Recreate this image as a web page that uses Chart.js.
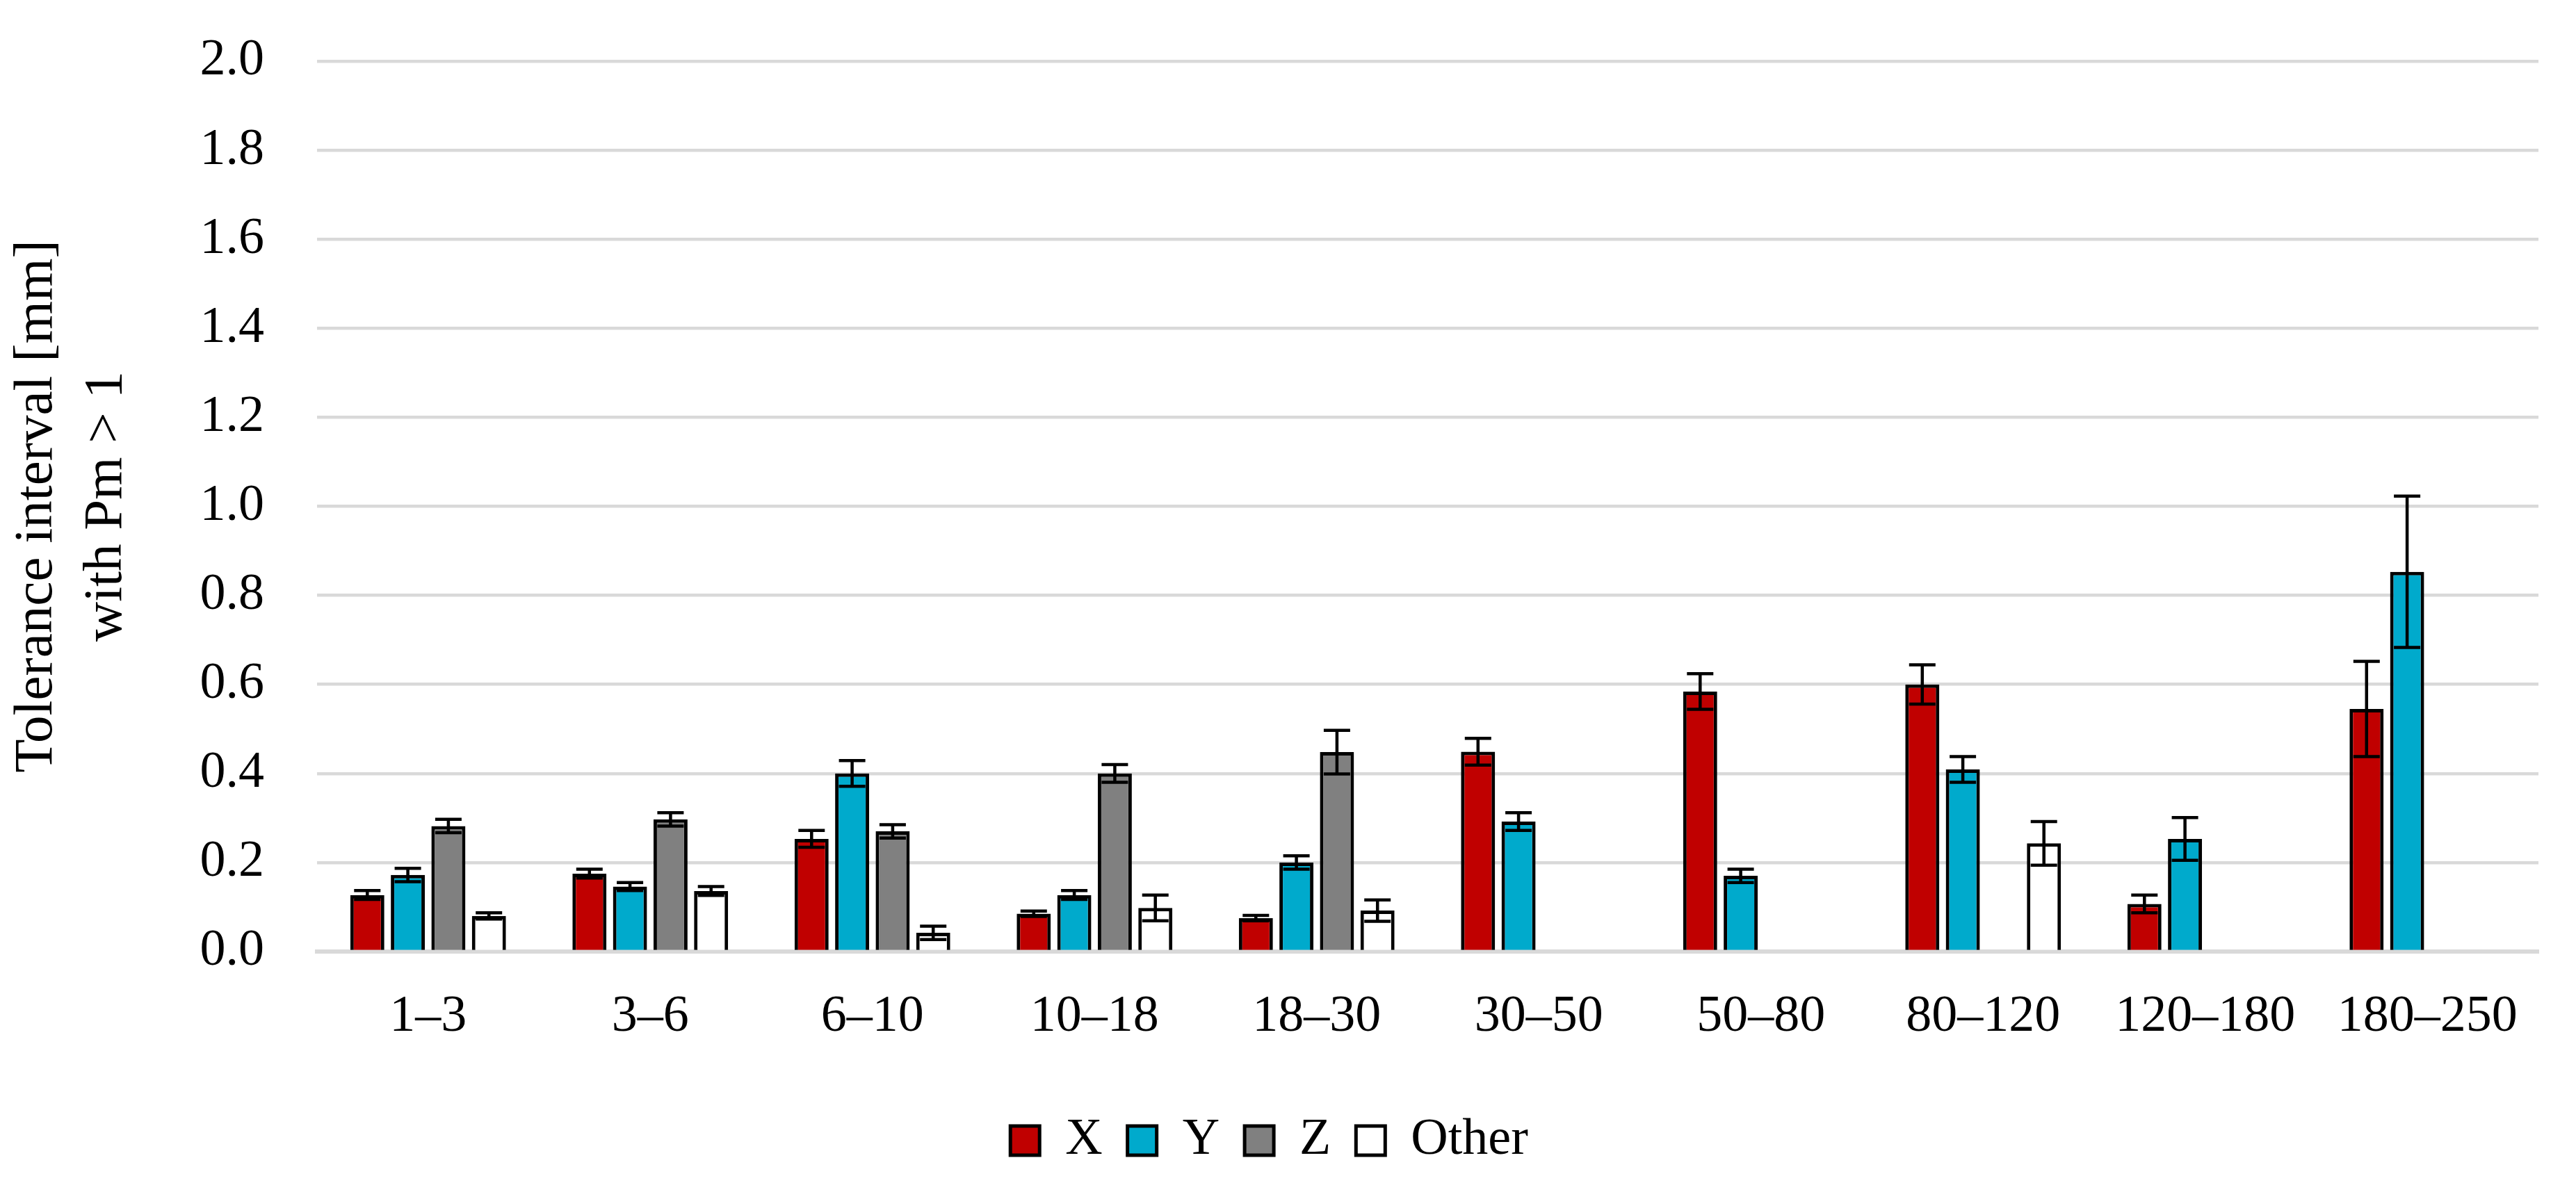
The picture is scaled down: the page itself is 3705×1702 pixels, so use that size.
<!DOCTYPE html>
<html>
<head>
<meta charset="utf-8">
<script src="https://cdn.jsdelivr.net/npm/chart.js@4/dist/chart.umd.min.js"></script>
<style>
  html, body { margin: 0; padding: 0; background: #ffffff; }
  #wrap { width: 3705px; height: 1702px; position: relative; }
</style>
</head>
<body>
<div id="wrap"><canvas id="c" width="3705" height="1702"></canvas></div>
<script>
// ---- data ----
const categories = ['1–3', '3–6', '6–10', '10–18', '18–30', '30–50', '50–80', '80–120', '120–180', '180–250'];
const seriesNames = ['X', 'Y', 'Z', 'Other'];

const valuesX     = [0.127, 0.175, 0.253, 0.085, 0.075, 0.449, 0.584, 0.600, 0.107, 0.545];
const valuesY     = [0.172, 0.146, 0.400, 0.127, 0.200, 0.292, 0.170, 0.409, 0.253, 0.853];
const valuesZ     = [0.282, 0.297, 0.270, 0.400, 0.448, null, null, null, null, null];
const valuesOther = [0.080, 0.136, 0.042, 0.098, 0.092, null, null, 0.243, null, null];

const errorsX     = [0.010, 0.010, 0.019, 0.006, 0.006, 0.030, 0.040, 0.044, 0.020, 0.107];
const errorsY     = [0.015, 0.009, 0.029, 0.010, 0.015, 0.020, 0.015, 0.029, 0.048, 0.170];
const errorsZ     = [0.015, 0.015, 0.015, 0.020, 0.049, null, null, null, null, null];
const errorsOther = [0.007, 0.010, 0.015, 0.029, 0.024, null, null, 0.049, null, null];

const yTickValues = [0.0, 0.2, 0.4, 0.6, 0.8, 1.0, 1.2, 1.4, 1.6, 1.8, 2.0];
const yTitleLines = ['Tolerance interval [mm]', 'with Pm > 1'];

// ---- styling ----
const colors = ['#C00000', '#00AACC', '#808080', '#FFFFFF'];
const FONT = "'Liberation Serif', 'Times New Roman', serif";
const allValues = [valuesX, valuesY, valuesZ, valuesOther];
const allErrors = [errorsX, errorsY, errorsZ, errorsOther];

const errorBarPlugin = {
  id: 'errorBars',
  afterDatasetsDraw(chart) {
    const ctx = chart.ctx;
    const yScale = chart.scales.y;
    ctx.save();
    ctx.strokeStyle = '#000000';
    ctx.lineWidth = 4.5;
    ctx.lineCap = 'butt';
    chart.data.datasets.forEach((ds, di) => {
      const meta = chart.getDatasetMeta(di);
      const errs = allErrors[di];
      meta.data.forEach((bar, i) => {
        const v = ds.data[i];
        const e = errs[i];
        if (v === null || e === null || e === undefined) return;
        const x = bar.x;
        const yTop = yScale.getPixelForValue(v + e);
        const yBot = yScale.getPixelForValue(v - e);
        const half = 19;
        ctx.beginPath();
        ctx.moveTo(x, yTop); ctx.lineTo(x, yBot);
        ctx.moveTo(x - half, yTop); ctx.lineTo(x + half, yTop);
        ctx.moveTo(x - half, yBot); ctx.lineTo(x + half, yBot);
        ctx.stroke();
      });
    });
    ctx.restore();
  }
};

const datasets = seriesNames.map((name, i) => ({
  label: name,
  data: allValues[i],
  backgroundColor: colors[i],
  borderColor: '#000000',
  borderWidth: 5,
  categoryPercentage: 0.73,
  barPercentage: 0.84
}));

new Chart(document.getElementById('c'), {
  type: 'bar',
  data: { labels: categories, datasets },
  plugins: [errorBarPlugin],
  options: {
    responsive: false,
    devicePixelRatio: 1,
    animation: false,
    layout: { padding: { top: 88, right: 54, bottom: 14, left: 0 } },
    plugins: {
      legend: {
        position: 'bottom',
        labels: {
          font: { family: FONT, size: 74 },
          color: '#000000',
          boxWidth: 42,
          boxHeight: 42,
          padding: 36
        }
      },
      tooltip: { enabled: false }
    },
    scales: {
      x: {
        z: 1,
        grid: { display: false, drawTicks: false },
        border: { display: true, color: '#D9D9D9', width: 6 },
        ticks: { font: { family: FONT, size: 74 }, color: '#000000', padding: 50, maxRotation: 0, autoSkip: false },
        afterFit(scale) { scale.height = 199; }
      },
      y: {
        min: 0,
        max: 2.0,
        afterBuildTicks(scale) { scale.ticks = yTickValues.map(v => ({ value: v })); },
        grid: { color: '#D9D9D9', lineWidth: 4.5, drawTicks: false },
        border: { display: false },
        ticks: {
          font: { family: FONT, size: 74 },
          color: '#000000',
          padding: 76,
          callback: (v) => Number(v).toFixed(1)
        },
        title: {
          display: true,
          text: yTitleLines,
          font: { family: FONT, size: 79, lineHeight: 1.27 },
          color: '#000000',
          padding: { top: 3, bottom: 0 }
        },
        afterFit(scale) {
          scale.width = 456;
          scale.paddingTop = 0;
          scale.paddingBottom = 0;
        }
      }
    }
  }
});
</script>
</body>
</html>
